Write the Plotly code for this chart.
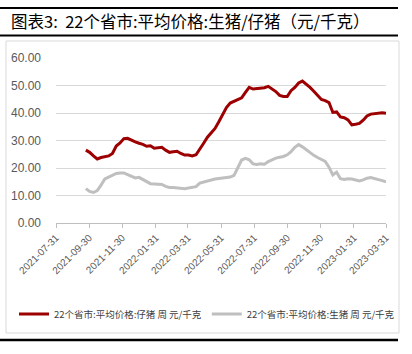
import pandas as pd
import plotly.graph_objects as go

# weekly observations (Fridays), 2021-09-24 .. 2023-03-31
start_date = "2021-09-24"
piglet = [26.5, 25.7, 24.4, 23.3, 23.8, 24.1, 24.4, 25.3, 28.0, 29.1,
          30.7, 30.8, 30.0, 29.5, 29.0, 28.6, 27.9, 28.1, 27.2, 27.4,
          27.5, 26.5, 25.7, 25.9, 26.1, 25.3, 24.7, 24.7, 24.4, 24.8,
          26.7, 29.0, 31.2, 32.7, 34.4, 36.8, 39.4, 42.0, 43.6, 44.3,
          44.9, 45.5, 47.5, 49.3, 48.7, 48.9, 49.2, 49.2, 49.7, 48.9,
          47.8, 46.4, 46.0, 46.0, 48.1, 49.3, 50.9, 51.6, 50.5, 49.3,
          47.9, 46.4, 44.9, 44.5, 43.8, 40.2, 40.4, 38.6, 38.3, 37.5,
          35.7, 35.9, 36.2, 37.4, 38.9, 39.6, 39.7, 39.9, 40.1, 39.9]
hog = [12.5, 11.5, 11.1, 11.8, 13.8, 16.0, 16.7, 17.3, 18.0, 18.2,
       18.2, 17.6, 16.9, 16.4, 16.6, 15.9, 15.0, 14.3, 14.2, 14.1,
       14.0, 13.3, 12.9, 12.9, 12.8, 12.7, 12.5, 12.7, 12.9, 13.2,
       14.5, 14.9, 15.3, 15.7, 16.0, 16.2, 16.4, 16.6, 16.7, 17.3,
       19.9, 22.9, 23.5, 23.0, 21.5, 21.3, 21.5, 21.4, 22.3, 23.1,
       23.6, 23.9, 24.2, 24.8, 25.9, 27.5, 28.5, 27.7, 26.6, 25.5,
       24.6, 23.8, 23.1, 22.4, 20.3, 17.5, 18.5, 16.1, 15.8, 16.1,
       16.0, 15.7, 15.3, 15.7, 16.3, 16.5, 16.2, 15.8, 15.4, 15.0]
dates = pd.date_range(start=start_date, periods=len(piglet), freq="7D")

x_ticks = ["2021-07-31", "2021-09-30", "2021-11-30", "2022-01-31", "2022-03-31",
           "2022-05-31", "2022-07-31", "2022-09-30", "2022-11-30", "2023-01-31",
           "2023-03-31"]
y_ticks = [0, 10, 20, 30, 40, 50, 60]
y_labels = ["0.00", "10.00", "20.00", "30.00", "40.00", "50.00", "60.00"]

name_piglet = "22个省市:平均价格:仔猪 周 元/千克"
name_hog = "22个省市:平均价格:生猪 周 元/千克"
title_text = "图表3:  22个省市:平均价格:生猪/仔猪（元/千克）"

RED = "#9c0000"
GRAY = "#bfbfbf"
CJK = "Noto Sans CJK SC"

fig = go.Figure()
fig.add_trace(go.Scatter(x=dates, y=piglet, mode="lines", name=name_piglet,
                         line=dict(color=RED, width=3)))
fig.add_trace(go.Scatter(x=dates, y=hog, mode="lines", name=name_hog,
                         line=dict(color=GRAY, width=3)))

L, R, T, B = 56, 26, 58, 131
W, H = 412, 354
pw, ph = W - L - R, H - T - B


def px(xp):
    return (xp - L) / pw


def py(yp):
    return (H - B - yp) / ph


shapes = [
    dict(type="line", xref="paper", yref="paper", x0=px(0), x1=px(398), y0=py(8), y1=py(8),
         line=dict(color="black", width=2)),
    dict(type="line", xref="paper", yref="paper", x0=px(0), x1=px(398), y0=py(35.5), y1=py(35.5),
         line=dict(color="black", width=2)),
    dict(type="line", xref="paper", yref="paper", x0=px(0), x1=px(398), y0=py(340), y1=py(340),
         line=dict(color="black", width=2.5)),
    dict(type="rect", xref="paper", yref="paper", x0=px(6), x1=px(399), y0=py(333), y1=py(41),
         line=dict(color="#d9d9d9", width=1), fillcolor="rgba(0,0,0,0)", layer="below"),
]

fig.update_layout(
    width=W, height=H,
    margin=dict(l=L, r=R, t=T, b=B),
    paper_bgcolor="white", plot_bgcolor="white",
    showlegend=True,
    legend=dict(orientation="h", x=px(14), y=py(314), xanchor="left", yanchor="middle",
                font=dict(family=CJK, size=9.5, color="#404040"),
                itemwidth=30, tracegroupgap=0, bgcolor="rgba(0,0,0,0)"),
    shapes=shapes,
    annotations=[dict(text=title_text, xref="paper", yref="paper", x=px(9), y=py(21),
                      xanchor="left", yanchor="middle", showarrow=False,
                      font=dict(family=CJK, size=16.5, color="black"))],
    hovermode=False,
)

fig.update_xaxes(
    range=["2021-07-31", "2023-03-31"],
    tickvals=x_ticks, ticktext=x_ticks, tickangle=-45,
    tickfont=dict(family="Liberation Sans", size=10, color="#595959"),
    showgrid=False, showline=True, linecolor="#bfbfbf", linewidth=1,
    ticks="outside", ticklen=4, tickcolor="#bfbfbf",
    zeroline=False,
)
fig.update_yaxes(
    range=[0, 60], tickvals=y_ticks, ticktext=y_labels,
    tickfont=dict(family="Liberation Sans", size=12, color="#595959"),
    showgrid=True, gridcolor="#d9d9d9", gridwidth=1,
    zeroline=False, showline=False, ticks="", ticklabelstandoff=14,
)

fig.write_html("out.html")
